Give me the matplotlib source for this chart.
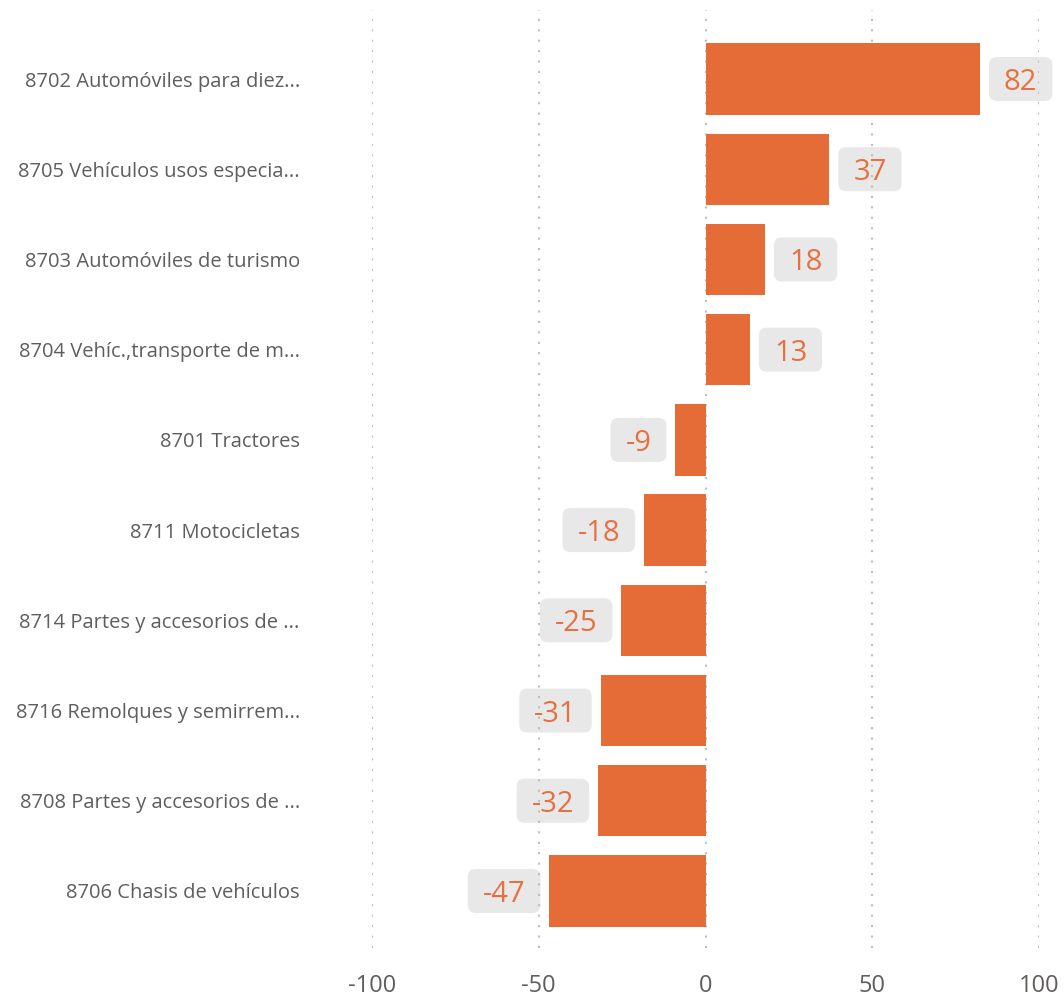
import matplotlib
matplotlib.use("Agg")
import matplotlib.pyplot as plt
from matplotlib.patches import FancyBboxPatch
from matplotlib.transforms import IdentityTransform

plt.rcParams['font.family'] = ['Open Sans', 'DejaVu Sans']

categories = [
    "8702 Automóviles para diez...",
    "8705 Vehículos usos especia...",
    "8703 Automóviles de turismo",
    "8704 Vehíc.,transporte de m...",
    "8701 Tractores",
    "8711 Motocicletas",
    "8714 Partes y accesorios de ...",
    "8716 Remolques y semirrem...",
    "8708 Partes y accesorios de ...",
    "8706 Chasis de vehículos",
]
values = [82.3, 37.1, 17.8, 13.3, -9.0, -18.4, -25.2, -31.4, -32.2, -46.8]
xticks = [-100, -50, 0, 50, 100]

bar_color = "#E56C37"
text_color = "#E8703F"
box_color = "#E8E8E8"

W, H = 1064, 997
fig = plt.figure(figsize=(W / 100, H / 100), dpi=100)
ax = fig.add_axes([372 / W, 1 - 948 / H, (1039 - 372) / W, (948 - 10) / H])
ax.patch.set_visible(False)

ypos = list(range(len(categories)))
ax.barh(ypos, values, height=0.79, color=bar_color, zorder=3)

ax.set_xlim(-100, 100)
ax.set_ylim(9.632, -0.765)
ax.set_xticks(xticks)
ax.set_xticklabels([str(t) for t in xticks])
ax.set_yticks(ypos)
ax.set_yticklabels(categories)

ax.tick_params(axis='y', length=0, pad=52, labelsize=14.5, labelcolor="#605E5C")
ax.tick_params(axis='x', length=0, pad=19, labelsize=17, labelcolor="#605E5C")
for s in ax.spines.values():
    s.set_visible(False)
ax.xaxis.grid(True, color="#BEBEBE", linestyle=(0, (1, 4)), linewidth=1.5, zorder=4)
ax.set_axisbelow(False)

labels = []
for y, v in zip(ypos, values):
    if v >= 0:
        t = ax.annotate(str(round(v)), (v, y), xytext=(24, 0), textcoords='offset pixels',
                        ha='left', va='center_baseline', fontsize=21, color=text_color, zorder=5)
    else:
        t = ax.annotate(str(round(v)), (v, y), xytext=(-24, 0), textcoords='offset pixels',
                        ha='right', va='center_baseline', fontsize=21, color=text_color, zorder=5)
    labels.append((t, y))

fig.canvas.draw()
for t, y in labels:
    bb = t.get_window_extent()
    cy = ax.transData.transform((0, y))[1]
    box = FancyBboxPatch((bb.x0 - 15, cy - 22), bb.width + 30, 44,
                         boxstyle="round,pad=0,rounding_size=8",
                         transform=IdentityTransform(), facecolor=box_color,
                         edgecolor='none', zorder=0)
    fig.add_artist(box)

fig.savefig("out.png", dpi=100)
